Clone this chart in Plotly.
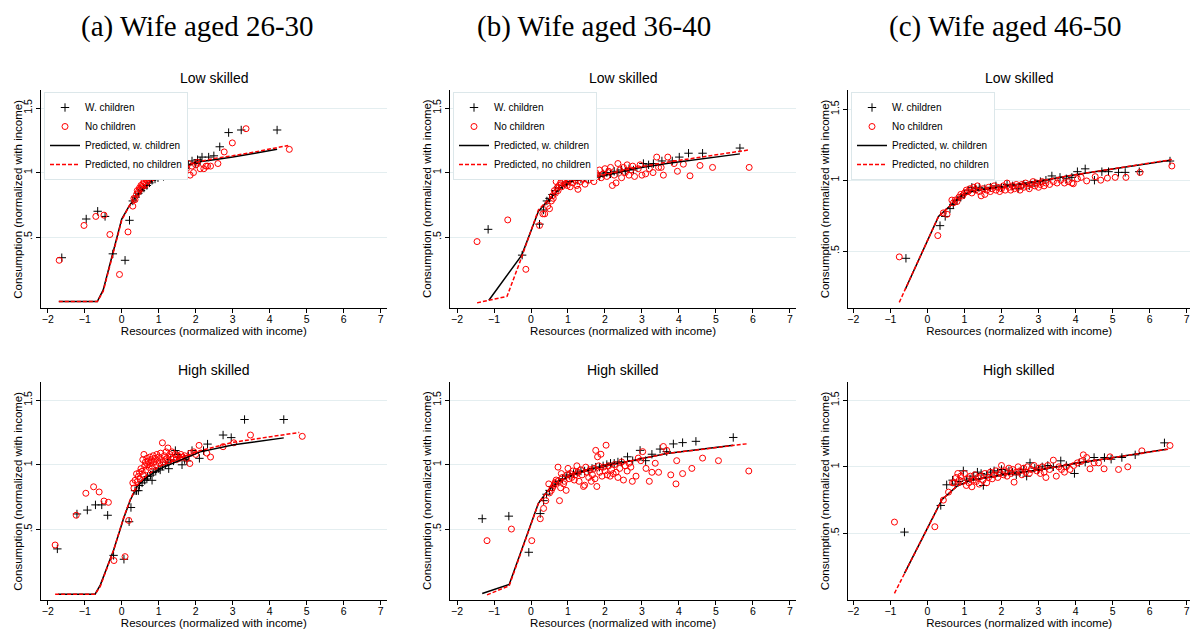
import plotly.graph_objects as go

# ---------------- DATA ----------------
column_titles = ["(a) Wife aged 26-30", "(b) Wife aged 36-40", "(c) Wife aged 46-50"]
row_titles = ["Low skilled", "High skilled"]
x_title = "Resources (normalized with income)"
y_title = "Consumption (normalized with income)"
x_ticks = [-2, -1, 0, 1, 2, 3, 4, 5, 6, 7]
y_ticks = [0.5, 1.0, 1.5]
y_tick_labels = [".5", "1", "1.5"]

# Panel a1 (26-30, low skilled)
a1_wc_x = [-1.62, -0.96, -0.65, -0.45, -0.24, 0.09, 0.21, 0.30, 0.38, 0.45, 0.52, 0.60, 0.68, 0.75, 0.82, 0.90, 0.98, 1.05, 1.13, 1.20, 1.30, 1.40, 1.50, 1.58, 1.70, 1.80, 1.90, 2.00, 2.05, 2.12, 2.17, 2.35, 2.49, 2.65, 2.89, 3.23, 4.20]
a1_wc_y = [0.34, 0.64, 0.70, 0.66, 0.37, 0.32, 0.63, 0.78, 0.81, 0.84, 0.86, 0.88, 0.90, 0.92, 0.94, 0.95, 0.96, 0.98, 0.97, 0.99, 1.00, 1.02, 1.04, 1.07, 1.05, 1.06, 1.09, 1.07, 1.10, 1.09, 1.12, 1.12, 1.13, 1.20, 1.31, 1.33, 1.33]
a1_nc_x = [-1.69, -1.02, -0.70, -0.48, -0.32, -0.06, 0.17, 0.30, 0.33, 0.36, 0.40, 0.42, 0.45, 0.48, 0.50, 0.52, 0.55, 0.57, 0.60, 0.62, 0.63, 0.65, 0.67, 0.70, 0.72, 0.74, 0.76, 0.78, 0.80, 0.82, 0.84, 0.86, 0.88, 0.90, 0.92, 0.95, 0.97, 1.00, 1.02, 1.05, 1.08, 1.10, 1.12, 1.14, 1.15, 1.18, 1.20, 1.23, 1.26, 1.30, 1.33, 1.36, 1.40, 1.45, 1.50, 1.55, 1.60, 1.65, 1.70, 1.75, 1.80, 1.85, 1.90, 1.94, 2.00, 2.05, 2.12, 2.22, 2.28, 2.32, 2.40, 2.60, 2.77, 2.99, 3.36, 4.53]
a1_nc_y = [0.32, 0.59, 0.66, 0.67, 0.52, 0.21, 0.54, 0.74, 0.80, 0.79, 0.83, 0.86, 0.85, 0.88, 0.87, 0.90, 0.89, 0.91, 0.93, 0.96, 0.90, 0.95, 0.97, 0.94, 0.98, 0.96, 0.99, 0.95, 1.00, 0.97, 1.01, 0.98, 1.02, 0.99, 1.05, 1.00, 1.02, 1.04, 0.99, 1.03, 1.06, 1.01, 1.04, 1.13, 1.02, 1.05, 1.03, 1.06, 1.02, 1.05, 1.08, 1.03, 1.06, 1.04, 1.07, 1.05, 1.08, 1.04, 1.06, 1.03, 1.07, 0.98, 1.05, 1.00, 1.06, 1.08, 1.03, 1.03, 1.05, 1.05, 1.05, 1.07, 1.16, 1.23, 1.34, 1.18]
a1_pw_x = [-1.70, -0.66, -0.50, 0.00, 0.20, 0.40, 0.60, 0.80, 1.00, 1.30, 1.60, 2.00, 2.50, 3.00, 3.60, 4.20]
a1_pw_y = [0.00, 0.00, 0.09, 0.64, 0.74, 0.82, 0.88, 0.93, 0.97, 1.01, 1.04, 1.08, 1.10, 1.12, 1.15, 1.18]
a1_pn_x = [-1.70, -0.66, -0.50, 0.00, 0.20, 0.40, 0.60, 0.80, 1.00, 1.30, 1.60, 2.00, 2.50, 3.00, 3.60, 4.20, 4.50]
a1_pn_y = [0.00, 0.00, 0.08, 0.63, 0.74, 0.82, 0.88, 0.93, 0.97, 1.01, 1.04, 1.08, 1.11, 1.13, 1.16, 1.19, 1.21]

# Panel a2 (26-30, high skilled)
a2_wc_x = [-1.74, -1.21, -0.93, -0.71, -0.54, -0.38, -0.22, 0.06, 0.20, 0.25, 0.36, 0.40, 0.45, 0.48, 0.55, 0.62, 0.68, 0.70, 0.78, 0.82, 0.85, 0.92, 1.00, 1.04, 1.10, 1.18, 1.25, 1.27, 1.32, 1.40, 1.45, 1.50, 1.55, 1.63, 1.70, 1.76, 1.80, 1.90, 2.10, 2.21, 2.32, 2.74, 2.96, 3.32, 4.38]
a2_wc_y = [0.35, 0.62, 0.65, 0.69, 0.69, 0.61, 0.30, 0.27, 0.56, 0.67, 0.80, 0.80, 0.80, 0.84, 0.86, 0.88, 0.89, 0.91, 0.92, 0.88, 0.94, 0.95, 0.97, 0.96, 0.99, 1.00, 1.02, 0.97, 1.04, 1.03, 1.11, 1.08, 1.06, 1.00, 1.04, 1.03, 1.07, 1.11, 1.05, 1.11, 1.16, 1.23, 1.21, 1.35, 1.35]
a2_nc_x = [-1.80, -1.23, -0.97, -0.76, -0.61, -0.48, -0.36, -0.21, 0.09, 0.19, 0.30, 0.33, 0.36, 0.40, 0.42, 0.45, 0.48, 0.50, 0.52, 0.55, 0.57, 0.58, 0.60, 0.62, 0.64, 0.66, 0.68, 0.70, 0.72, 0.74, 0.76, 0.78, 0.80, 0.82, 0.85, 0.87, 0.90, 0.92, 0.95, 0.97, 1.00, 1.02, 1.05, 1.07, 1.10, 1.12, 1.15, 1.18, 1.20, 1.22, 1.25, 1.27, 1.30, 1.33, 1.36, 1.40, 1.44, 1.48, 1.52, 1.56, 1.60, 1.65, 1.70, 1.75, 1.84, 1.86, 1.95, 2.00, 2.09, 2.30, 2.40, 2.74, 3.03, 3.48, 4.88]
a2_nc_y = [0.38, 0.61, 0.78, 0.83, 0.79, 0.72, 0.71, 0.26, 0.29, 0.57, 0.86, 0.82, 0.88, 0.93, 0.87, 0.91, 0.94, 0.89, 0.97, 0.95, 1.04, 0.92, 1.08, 0.99, 1.02, 0.96, 1.05, 1.00, 1.03, 0.98, 1.06, 1.01, 1.04, 0.99, 1.07, 1.02, 1.05, 1.00, 1.08, 1.03, 1.06, 1.01, 1.09, 1.04, 1.17, 1.02, 1.07, 1.04, 1.10, 1.05, 1.13, 1.03, 1.08, 1.06, 1.10, 1.05, 1.08, 1.04, 1.07, 1.05, 1.08, 1.06, 1.07, 1.05, 1.01, 1.09, 1.10, 1.08, 1.15, 1.09, 1.06, 1.14, 1.17, 1.23, 1.22]
a2_pw_x = [-1.72, -0.72, -0.58, -0.22, 0.05, 0.23, 0.41, 0.68, 1.04, 1.67, 2.12, 3.03, 4.38]
a2_pw_y = [0.00, 0.00, 0.07, 0.34, 0.585, 0.726, 0.83, 0.905, 0.97, 1.046, 1.10, 1.155, 1.208]
a2_pn_x = [-1.80, -0.72, -0.58, -0.22, 0.05, 0.23, 0.41, 0.68, 1.04, 1.67, 2.12, 3.03, 4.00, 4.80]
a2_pn_y = [0.00, 0.00, 0.06, 0.34, 0.59, 0.73, 0.84, 0.92, 0.99, 1.06, 1.11, 1.175, 1.215, 1.25]

# Panel b1 (36-40, low skilled)
b1_wc_x = [-1.16, -0.24, 0.23, 0.34, 0.43, 0.50, 0.58, 0.66, 0.75, 0.85, 0.95, 1.05, 1.15, 1.25, 1.35, 1.45, 1.55, 1.65, 1.75, 1.85, 1.95, 2.05, 2.15, 2.25, 2.35, 2.45, 2.55, 2.65, 2.77, 3.04, 3.18, 3.31, 3.54, 3.82, 4.01, 4.26, 4.64, 5.65]
b1_wc_y = [0.56, 0.36, 0.60, 0.71, 0.78, 0.80, 0.83, 0.86, 0.88, 0.90, 0.92, 0.93, 0.95, 0.94, 0.95, 0.96, 0.95, 0.97, 0.98, 0.97, 0.99, 1.00, 0.99, 1.01, 1.00, 1.02, 1.01, 1.03, 1.02, 1.07, 1.06, 1.07, 1.09, 1.09, 1.12, 1.15, 1.15, 1.19]
b1_nc_x = [-1.46, -0.63, -0.14, 0.23, 0.32, 0.37, 0.45, 0.50, 0.55, 0.58, 0.60, 0.63, 0.66, 0.68, 0.70, 0.73, 0.76, 0.80, 0.83, 0.86, 0.88, 0.92, 0.95, 0.98, 1.00, 1.03, 1.06, 1.10, 1.13, 1.16, 1.20, 1.24, 1.27, 1.30, 1.34, 1.38, 1.42, 1.46, 1.50, 1.55, 1.60, 1.65, 1.70, 1.75, 1.80, 1.85, 1.90, 1.95, 2.00, 2.05, 2.10, 2.15, 2.20, 2.25, 2.30, 2.35, 2.40, 2.45, 2.50, 2.55, 2.60, 2.65, 2.70, 2.75, 2.80, 2.90, 2.95, 3.00, 3.10, 3.20, 3.30, 3.40, 3.45, 3.52, 3.58, 3.70, 3.87, 3.96, 4.12, 4.30, 4.57, 4.91, 5.90]
b1_nc_y = [0.465, 0.633, 0.25, 0.59, 0.68, 0.68, 0.74, 0.72, 0.78, 0.82, 0.80, 0.86, 0.84, 0.93, 0.88, 0.86, 0.90, 0.92, 0.89, 1.00, 0.94, 0.91, 0.96, 0.90, 0.93, 0.97, 0.89, 0.95, 0.92, 0.98, 0.94, 0.90, 0.87, 0.96, 0.93, 0.99, 0.95, 0.91, 0.97, 0.94, 0.99, 0.96, 0.93, 1.00, 0.97, 1.02, 0.96, 0.99, 1.03, 0.97, 1.01, 1.04, 0.90, 0.98, 0.92, 1.07, 1.02, 0.96, 1.04, 1.00, 1.06, 0.98, 1.02, 1.05, 0.97, 1.03, 1.06, 0.98, 0.99, 1.03, 1.00, 1.12, 1.04, 1.04, 0.98, 1.12, 1.07, 1.01, 1.065, 0.975, 1.055, 1.04, 1.04]
b1_pw_x = [-1.14, -0.25, 0.20, 0.43, 0.79, 1.15, 1.87, 2.77, 3.67, 5.65]
b1_pw_y = [0.01, 0.36, 0.70, 0.775, 0.88, 0.94, 0.97, 1.03, 1.07, 1.145]
b1_pn_x = [-1.46, -0.65, -0.31, 0.20, 0.43, 0.79, 1.15, 1.87, 2.77, 3.67, 5.88]
b1_pn_y = [-0.01, 0.04, 0.30, 0.71, 0.78, 0.88, 0.94, 0.975, 1.035, 1.08, 1.175]

# Panel b2 (36-40, high skilled)
b2_wc_x = [-1.32, -0.60, -0.06, 0.25, 0.34, 0.42, 0.50, 0.58, 0.66, 0.75, 0.85, 0.95, 1.05, 1.15, 1.25, 1.35, 1.45, 1.55, 1.65, 1.75, 1.85, 1.95, 2.05, 2.15, 2.25, 2.35, 2.45, 2.61, 2.75, 2.95, 3.10, 3.27, 3.49, 3.67, 3.85, 4.10, 4.46, 5.47]
b2_wc_y = [0.58, 0.60, 0.32, 0.62, 0.72, 0.77, 0.80, 0.83, 0.85, 0.87, 0.89, 0.91, 0.92, 0.93, 0.94, 0.95, 0.95, 0.96, 0.97, 0.98, 0.98, 0.99, 1.00, 1.01, 1.01, 1.02, 1.02, 1.06, 1.03, 1.11, 1.03, 1.08, 1.12, 1.10, 1.16, 1.17, 1.18, 1.21]
b2_nc_x = [-1.19, -0.53, 0.02, 0.25, 0.34, 0.40, 0.48, 0.50, 0.55, 0.58, 0.62, 0.65, 0.68, 0.72, 0.73, 0.77, 0.80, 0.82, 0.85, 0.88, 0.90, 0.95, 0.97, 1.00, 1.03, 1.06, 1.10, 1.13, 1.17, 1.20, 1.24, 1.27, 1.30, 1.34, 1.38, 1.42, 1.45, 1.48, 1.52, 1.56, 1.60, 1.63, 1.66, 1.70, 1.73, 1.75, 1.78, 1.80, 1.83, 1.86, 1.89, 1.92, 1.96, 2.00, 2.03, 2.06, 2.10, 2.14, 2.18, 2.22, 2.26, 2.30, 2.35, 2.40, 2.45, 2.50, 2.55, 2.60, 2.65, 2.70, 2.74, 2.84, 2.90, 2.97, 3.02, 3.11, 3.20, 3.27, 3.36, 3.45, 3.58, 3.67, 3.78, 3.92, 3.94, 4.10, 4.35, 4.64, 5.07, 5.89]
b2_nc_y = [0.41, 0.50, 0.41, 0.58, 0.66, 0.72, 0.85, 0.78, 0.80, 0.82, 0.84, 0.86, 0.88, 0.87, 0.98, 0.72, 0.82, 0.93, 0.90, 0.85, 0.87, 0.80, 0.92, 0.97, 0.89, 0.93, 0.90, 0.95, 0.88, 0.92, 0.99, 0.94, 0.87, 0.96, 0.92, 0.83, 0.84, 0.98, 0.94, 0.90, 0.96, 0.87, 0.92, 0.97, 0.89, 1.11, 0.83, 1.06, 0.99, 0.94, 1.08, 0.91, 0.98, 0.95, 1.15, 0.92, 0.99, 0.91, 0.96, 0.93, 1.00, 0.94, 0.90, 0.97, 1.02, 0.88, 0.99, 0.95, 1.01, 0.98, 0.87, 0.91, 1.05, 1.03, 1.10, 0.97, 0.87, 0.94, 1.01, 0.94, 1.14, 1.11, 0.92, 0.85, 1.03, 0.93, 0.97, 1.05, 1.03, 0.95]
b2_pw_x = [-1.32, -0.59, 0.20, 0.43, 0.79, 1.33, 1.87, 2.77, 3.67, 5.47]
b2_pw_y = [0.00, 0.07, 0.70, 0.79, 0.88, 0.94, 0.98, 1.035, 1.085, 1.15]
b2_pn_x = [-1.19, -0.59, 0.20, 0.43, 0.79, 1.33, 1.87, 2.77, 3.67, 5.88]
b2_pn_y = [-0.01, 0.06, 0.70, 0.79, 0.88, 0.94, 0.98, 1.035, 1.085, 1.162]

# Panel c1 (46-50, low skilled)
c1_wc_x = [-0.58, 0.34, 0.48, 0.61, 0.70, 0.80, 0.90, 1.00, 1.10, 1.20, 1.30, 1.40, 1.55, 1.70, 1.85, 2.00, 2.15, 2.30, 2.45, 2.60, 2.75, 2.90, 3.05, 3.20, 3.36, 3.58, 3.75, 3.90, 4.05, 4.26, 4.51, 4.71, 4.89, 5.16, 5.34, 5.72, 6.55]
c1_wc_y = [0.45, 0.68, 0.745, 0.80, 0.83, 0.86, 0.88, 0.90, 0.93, 0.95, 0.94, 0.95, 0.94, 0.95, 0.96, 0.95, 0.97, 0.96, 0.94, 0.97, 0.96, 0.98, 0.99, 1.00, 1.03, 1.02, 1.01, 1.02, 1.06, 1.08, 1.00, 1.06, 1.06, 1.055, 1.055, 1.06, 1.135]
c1_nc_x = [-0.76, 0.28, 0.43, 0.53, 0.66, 0.70, 0.75, 0.80, 0.85, 0.90, 0.95, 1.00, 1.05, 1.10, 1.15, 1.20, 1.25, 1.30, 1.35, 1.40, 1.45, 1.50, 1.55, 1.60, 1.65, 1.70, 1.75, 1.80, 1.85, 1.90, 1.95, 2.00, 2.05, 2.10, 2.15, 2.20, 2.25, 2.30, 2.35, 2.40, 2.45, 2.50, 2.55, 2.60, 2.65, 2.70, 2.75, 2.80, 2.85, 2.90, 2.95, 3.00, 3.05, 3.10, 3.15, 3.20, 3.30, 3.40, 3.50, 3.60, 3.70, 3.80, 3.90, 3.94, 4.05, 4.15, 4.30, 4.53, 4.68, 4.86, 5.07, 5.36, 5.74, 6.60]
c1_nc_y = [0.46, 0.61, 0.77, 0.76, 0.86, 0.84, 0.86, 0.85, 0.88, 0.90, 0.89, 0.91, 0.93, 0.92, 0.94, 0.91, 0.95, 0.93, 0.96, 0.92, 0.89, 0.94, 0.90, 0.93, 0.95, 0.92, 0.94, 0.96, 0.93, 0.95, 0.92, 0.94, 0.96, 0.93, 0.98, 0.95, 0.93, 0.96, 0.94, 0.97, 0.95, 0.93, 0.97, 0.95, 0.98, 0.96, 0.94, 0.97, 0.99, 0.96, 0.98, 0.95, 0.97, 0.99, 0.96, 0.98, 0.97, 0.99, 0.98, 1.00, 0.98, 0.99, 0.98, 0.975, 1.01, 1.02, 0.995, 1.025, 1.00, 1.015, 1.02, 1.02, 1.055, 1.10]
c1_pw_x = [-0.60, 0.30, 0.70, 0.97, 1.33, 2.05, 3.13, 4.03, 6.55]
c1_pw_y = [0.23, 0.745, 0.84, 0.90, 0.93, 0.955, 1.00, 1.04, 1.14]
c1_pn_x = [-0.76, 0.30, 0.70, 0.97, 1.33, 2.05, 3.13, 4.03, 6.60]
c1_pn_y = [0.14, 0.745, 0.84, 0.90, 0.93, 0.955, 1.00, 1.04, 1.145]

# Panel c2 (46-50, high skilled)
c2_wc_x = [-0.62, 0.36, 0.52, 0.68, 0.75, 0.85, 0.97, 1.05, 1.15, 1.25, 1.35, 1.45, 1.51, 1.60, 1.70, 1.80, 1.90, 2.00, 2.10, 2.20, 2.30, 2.40, 2.50, 2.60, 2.68, 2.77, 2.90, 3.00, 3.10, 3.25, 3.40, 3.60, 3.75, 3.97, 4.10, 4.26, 4.50, 4.78, 4.96, 5.25, 5.61, 6.40]
c2_wc_y = [0.51, 0.71, 0.865, 0.90, 0.87, 0.89, 0.97, 0.90, 0.91, 0.93, 0.96, 0.95, 0.86, 0.94, 0.96, 0.97, 0.96, 0.98, 0.95, 0.97, 0.96, 0.94, 0.96, 0.98, 0.93, 1.03, 0.99, 0.98, 1.00, 1.01, 1.00, 1.045, 1.01, 0.95, 1.03, 1.035, 1.07, 1.07, 1.057, 1.07, 1.09, 1.18]
c2_nc_x = [-0.89, 0.20, 0.43, 0.57, 0.68, 0.72, 0.78, 0.82, 0.86, 0.90, 0.95, 1.00, 1.05, 1.08, 1.12, 1.16, 1.20, 1.24, 1.28, 1.32, 1.36, 1.40, 1.45, 1.50, 1.55, 1.60, 1.65, 1.70, 1.75, 1.80, 1.85, 1.90, 1.95, 2.00, 2.05, 2.10, 2.15, 2.20, 2.25, 2.30, 2.34, 2.40, 2.45, 2.50, 2.55, 2.60, 2.65, 2.70, 2.75, 2.80, 2.88, 2.95, 3.00, 3.05, 3.10, 3.15, 3.20, 3.25, 3.30, 3.40, 3.48, 3.55, 3.62, 3.70, 3.75, 3.85, 3.95, 4.05, 4.15, 4.21, 4.30, 4.39, 4.50, 4.62, 4.77, 4.93, 5.16, 5.41, 5.79, 6.55]
c2_nc_y = [0.585, 0.55, 0.75, 0.81, 0.88, 0.88, 0.92, 0.95, 0.90, 0.93, 0.89, 0.95, 0.86, 0.91, 0.88, 0.93, 0.85, 0.90, 0.94, 0.89, 0.92, 0.87, 0.93, 0.90, 0.95, 0.88, 0.92, 0.96, 0.91, 0.94, 0.97, 0.92, 0.95, 1.01, 0.94, 0.97, 0.93, 0.99, 0.95, 0.98, 0.885, 0.96, 1.00, 0.97, 0.94, 0.99, 0.96, 1.00, 0.95, 0.98, 1.01, 0.97, 0.99, 0.95, 1.00, 0.96, 0.92, 1.01, 0.98, 1.05, 0.93, 1.00, 0.98, 0.96, 1.00, 0.98, 1.01, 1.03, 1.04, 1.09, 1.07, 0.985, 1.03, 1.03, 0.985, 1.075, 0.98, 1.00, 1.12, 1.16]
c2_pw_x = [-0.62, 0.39, 0.79, 1.15, 2.05, 3.04, 4.03, 6.46]
c2_pw_y = [0.20, 0.753, 0.853, 0.898, 0.94, 0.978, 1.027, 1.132]
c2_pn_x = [-0.89, 0.39, 0.79, 1.15, 2.05, 3.04, 4.03, 6.55]
c2_pn_y = [0.05, 0.753, 0.853, 0.898, 0.94, 0.978, 1.027, 1.135]

series_names = ["W. children", "No children", "Predicted, w. children", "Predicted, no children"]

panels = [
    (a1_wc_x, a1_wc_y, a1_nc_x, a1_nc_y, a1_pw_x, a1_pw_y, a1_pn_x, a1_pn_y),
    (b1_wc_x, b1_wc_y, b1_nc_x, b1_nc_y, b1_pw_x, b1_pw_y, b1_pn_x, b1_pn_y),
    (c1_wc_x, c1_wc_y, c1_nc_x, c1_nc_y, c1_pw_x, c1_pw_y, c1_pn_x, c1_pn_y),
    (a2_wc_x, a2_wc_y, a2_nc_x, a2_nc_y, a2_pw_x, a2_pw_y, a2_pn_x, a2_pn_y),
    (b2_wc_x, b2_wc_y, b2_nc_x, b2_nc_y, b2_pw_x, b2_pw_y, b2_pn_x, b2_pn_y),
    (c2_wc_x, c2_wc_y, c2_nc_x, c2_nc_y, c2_pw_x, c2_pw_y, c2_pn_x, c2_pn_y),
]

# ---------------- LAYOUT ----------------
W, H = 1190, 629
x_domains = [[0.0342, 0.3252], [0.3782, 0.6690], [0.7129, 1.0]]
x_ranges = [[-2.19, 7.17], [-2.19, 7.17], [-2.135, 7.09]]
y_domains = [[0.5103, 0.8569], [0.0461, 0.3927]]
y_ranges = [[-0.05, 1.64], [-0.05, 1.64], [0.10, 1.635],
            [-0.045, 1.64], [-0.05, 1.64], [0.0, 1.637]]
legend_x = [44 / W, 453 / W, 851 / W]

FONT = "Liberation Sans, Arial, sans-serif"
fig = go.Figure()
layout = dict(
    width=W, height=H, margin=dict(l=0, r=0, t=0, b=0),
    paper_bgcolor="white", plot_bgcolor="white",
    font=dict(family=FONT, color="black", size=10),
    annotations=[],
)

for i, p in enumerate(panels):
    r, c = divmod(i, 3)
    k = i + 1
    xa = "x" if k == 1 else f"x{k}"
    ya = "y" if k == 1 else f"y{k}"
    leg = None
    if r == 0:
        leg = "legend" if c == 0 else f"legend{c + 1}"
    show = r == 0
    wcx, wcy, ncx, ncy, pwx, pwy, pnx, pny = p
    common = dict(xaxis=xa, yaxis=ya, showlegend=show)
    if leg:
        common["legend"] = leg
    fig.add_trace(go.Scatter(x=wcx, y=wcy, mode="markers", name=series_names[0],
                             marker=dict(symbol="cross-thin-open", size=6, color="black",
                                         line=dict(color="black", width=1)), **common))
    fig.add_trace(go.Scatter(x=ncx, y=ncy, mode="markers", name=series_names[1],
                             marker=dict(symbol="circle-open", size=6, color="#ff0000",
                                         line=dict(color="#ff0000", width=1)), **common))
    fig.add_trace(go.Scatter(x=pwx, y=pwy, mode="lines", name=series_names[2],
                             line=dict(color="black", width=1.5), **common))
    fig.add_trace(go.Scatter(x=pnx, y=pny, mode="lines", name=series_names[3],
                             line=dict(color="#ff0000", width=1.5, dash="4px,2px"), **common))

    xkey = "xaxis" if k == 1 else f"xaxis{k}"
    ykey = "yaxis" if k == 1 else f"yaxis{k}"
    layout[xkey] = dict(
        domain=x_domains[c], range=x_ranges[c], anchor=ya,
        tickmode="array", tickvals=x_ticks, ticks="outside", ticklen=4, tickwidth=1,
        tickcolor="black", showline=True, linecolor="black", linewidth=1,
        showgrid=False, zeroline=False, automargin=False, ticklabelstandoff=-3,
        tickfont=dict(size=10.5, family=FONT),
        title=dict(text=x_title, font=dict(size=11.5, family=FONT), standoff=2),
    )
    layout[ykey] = dict(
        domain=y_domains[r], range=y_ranges[i], anchor=xa,
        tickmode="array", tickvals=y_ticks, ticktext=y_tick_labels, tickangle=-90,
        ticks="outside", ticklen=4, tickwidth=1, tickcolor="black",
        showline=True, linecolor="black", linewidth=1,
        showgrid=True, gridcolor="#e4eef0", gridwidth=1, zeroline=False, automargin=False,
        tickfont=dict(size=10.5, family=FONT),
    )
    # y-axis title, placed beside the tick labels
    layout["annotations"].append(dict(
        text=y_title, xref="paper", yref="paper",
        x=x_domains[c][0] - 23 / W, y=sum(y_domains[r]) / 2, textangle=-90,
        xanchor="center", yanchor="middle", showarrow=False,
        font=dict(size=11.5, family=FONT, color="black")))
    layout["annotations"].append(dict(
        text=row_titles[r], xref="paper", yref="paper",
        x=(x_domains[c][0] + min(x_domains[c][1], (x_domains[c][0] + 346 / W))) / 2,
        y=y_domains[r][1] + 12 / H, xanchor="center", yanchor="middle",
        showarrow=False, font=dict(size=14, family=FONT, color="black")))

col_centers = [197.5 / W, 594 / W, 1005 / W]
for c in range(3):
    layout["annotations"].append(dict(
        text=column_titles[c], xref="paper", yref="paper", x=col_centers[c], y=1 - 27 / H,
        xanchor="center", yanchor="middle", showarrow=False,
        font=dict(size=29, family="Liberation Serif, Times New Roman, serif", color="black")))

for c in range(3):
    key = "legend" if c == 0 else f"legend{c + 1}"
    layout[key] = dict(
        x=legend_x[c], y=1 - 92 / H, xanchor="left", yanchor="top",
        bgcolor="white", bordercolor="#dce7ea", borderwidth=1,
        font=dict(size=10, family=FONT, color="black"), tracegroupgap=0,
        itemwidth=30,
    )

fig.update_layout(**layout)
fig.write_html(
    "out.html",
    config={"displayModeBar": False},
    post_script="document.body.style.margin='0';document.body.style.overflow='hidden';"
                "window.dispatchEvent(new Event('resize'));",
)
